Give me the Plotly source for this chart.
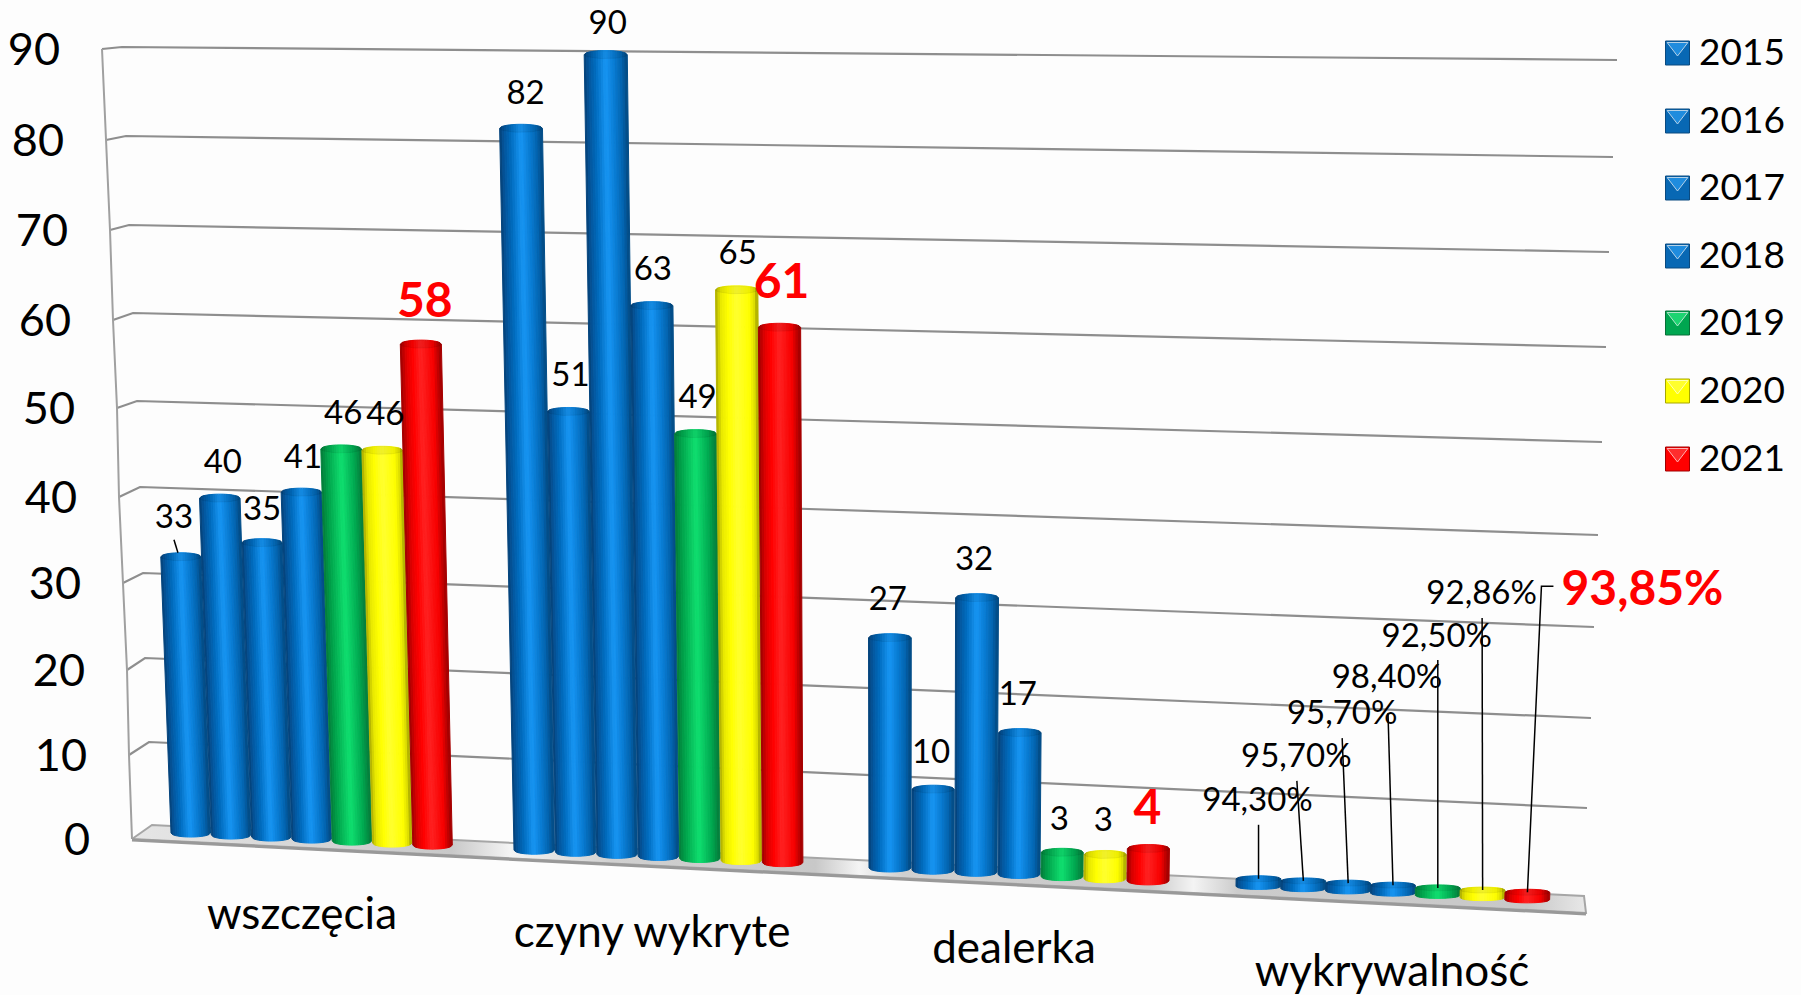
import numpy as np
import plotly.graph_objects as go

# ---------- data ----------
CATEGORIES = ["wszczęcia", "czyny wykryte", "dealerka", "wykrywalność"]
YEARS = ["2015", "2016", "2017", "2018", "2019", "2020", "2021"]
V2015 = [33, 82, 27, 94.30]
V2016 = [40, 51, 10, 95.70]
V2017 = [35, 90, 32, 95.70]
V2018 = [41, 63, 17, 98.40]
V2019 = [46, 49, 3, 92.50]
V2020 = [46, 65, 3, 92.86]
V2021 = [58, 61, 4, 93.85]
SERIES = [V2015, V2016, V2017, V2018, V2019, V2020, V2021]
TICKS = [0, 10, 20, 30, 40, 50, 60, 70, 80, 90]

# ---------- perspective layout (screen geometry of the 3-D box) ----------
W, H = 1801, 995
BAR_H = [0, 80, 166, 254, 341, 431, 521, 611, 703, 797]
FRONT_X = [132, 129, 127, 123, 119, 117, 113, 110, 106, 102]
FRONT_Y = [839, 755, 670, 583, 497, 408, 320, 230, 140, 49]
BACK_X = [152, 149, 145, 143, 140, 137, 133, 129, 126, 122]
BACK_Y = [825, 742, 658, 573, 487, 401, 313, 225, 136, 47]
RIGHT_X = [1584, 1587, 1591, 1594, 1598, 1602, 1606, 1609, 1613, 1617]
RIGHT_Y = [896, 808, 718, 627, 535, 442, 347, 252, 157, 60]
GROUP_LEFT = [171, 514, 869, 1236]
GROUP_STEP = [40.3, 41.4, 43.0, 44.8]
GROUP_W = [39.5, 40.5, 42.0, 44.8]
GROUP_RY = [4.0, 4.0, 4.0, 3.0]
GRID = "#8e8e8e"
PAPER = "#fdfdfd"
FONT = "Lato"

BLUE = [(0, "#063f73"), (.10, "#05559b"), (.26, "#006cbe"), (.5, "#1896f4"), (.68, "#0a7ed6"), (.88, "#0363ae"), (1, "#04487f")]
GREEN = [(0, "#067a3a"), (.15, "#00a04a"), (.5, "#10e070"), (.82, "#00a850"), (1, "#067a3a")]
YELLOW = [(0, "#a8a800"), (.12, "#e8e800"), (.3, "#ffff00"), (.5, "#ffff30"), (.8, "#ffff00"), (.92, "#dede00"), (1, "#a0a000")]
RED = [(0, "#9a0000"), (.15, "#e00000"), (.3, "#ff0000"), (.5, "#ff2222"), (.8, "#f80000"), (1, "#9a0000")]
RAMPS = [BLUE, BLUE, BLUE, BLUE, GREEN, YELLOW, RED]
SWATCH = ["#0868b4", "#0868b4", "#0868b4", "#0868b4", "#00a650", "#ffff00", "#ff0000"]
SW_LIGHT = ["#2a9cf0", "#2a9cf0", "#2a9cf0", "#2a9cf0", "#28e880", "#ffff40", "#ff4040"]
SW_DARK = ["#0a4a80", "#0a4a80", "#0a4a80", "#0a4a80", "#087038", "#a8a800", "#a00000"]
LEGEND_Y = [53, 121, 188, 256, 323, 391, 459]

# label offsets from the top centre of each bar: one row per series
LABEL_DX = [[-7, 4.5, -2, -1], [3, 2, -2, -7], [0, 2, -3, -6], [1.5, 1, -2, -6],
            [2, 2, -3, -1], [3, 1, -2, -1], [4, 2, -1, 115]]
LABEL_DY = [[-36.5, -33, -35.7, -76], [-33, -33.7, -34.6, -122], [-31, -29, -36, -167], [-32, -34, -35.6, -205],
            [-33, -33.5, -30.6, -249], [-34, -34, -31.6, -294], [-39.5, -41.3, -36.4, -299]]
LEADER_DX = [1, 0.5, 0, 1, 1, 0.5, -101]
LEADER_DY = [22, 22, 22, 33, 21, 22, -7]
CAT_X = [302, 652, 1014, 1392]
CAT_Y = [918, 936, 952, 975]


def hex2rgb(c):
    return np.array([int(c[i:i + 2], 16) for i in (1, 3, 5)], float)


def shade(ramp, t):
    ps = [p for p, _ in ramp]
    cs = np.array([hex2rgb(c) for _, c in ramp])
    rgb = [np.interp(t, ps, cs[:, k]) for k in range(3)]
    return "rgb(%d,%d,%d)" % tuple(rgb)


def geom(g, i, v):
    """Project a bar (group g, slot i, value v) into the perspective box."""
    val = v / 100 if g == 3 else v
    x = GROUP_LEFT[g] + GROUP_STEP[g] * i + GROUP_W[g] / 2
    y = 833 + 0.05 * (x - 190)
    h = float(np.interp(val, TICKS, BAR_H)) * min(1.012, 1 + (x - 530) * 4e-5)
    xt = x - (900 - x) * 5e-5 * h
    wt = GROUP_W[g] * (1 + 8e-5 * h)
    return x, y, xt, y - h, GROUP_W[g], wt, GROUP_RY[g]


fig = go.Figure()


def line(xs, ys, color=GRID, width=2.2):
    fig.add_trace(go.Scatter(x=xs, y=ys, mode="lines", line=dict(color=color, width=width),
                             hoverinfo="skip", showlegend=False))


# grid lines, side wall
for k in range(1, len(TICKS)):
    line([FRONT_X[k], BACK_X[k], RIGHT_X[k]], [FRONT_Y[k], BACK_Y[k], RIGHT_Y[k]])
line(FRONT_X, FRONT_Y, "#a0a0a0", 2)

# floor
fx = [FRONT_X[0], 1586, RIGHT_X[0], BACK_X[0], FRONT_X[0]]
fy = [FRONT_Y[0], 913, RIGHT_Y[0], BACK_Y[0], FRONT_Y[0]]
fig.add_trace(go.Scatter(
    x=fx, y=fy, mode="lines", fill="toself", line=dict(color="#a6a6a6", width=2),
    fillgradient=dict(type="horizontal", colorscale=[
        [0, "#e6e6e6"], [.22, "#c8c8c8"], [.26, "#f4f4f4"], [.33, "#d0d0d0"], [.47, "#c8c8c8"],
        [.50, "#f4f4f4"], [.53, "#d0d0d0"], [.70, "#c8c8c8"], [.73, "#f4f4f4"], [.76, "#cccccc"],
        [.96, "#c8c8c8"], [1, "#e8e8e8"]]),
    hoverinfo="skip", showlegend=False))
line([FRONT_X[0], 1586], [FRONT_Y[0] + 1, 914], "#999999", 3)

# cylinders: every series is a set of shaded strips
N = 18
edges = np.linspace(-1, 1, N + 1)
for j, (year, vals) in enumerate(zip(YEARS, SERIES)):
    for s in range(N):
        u0, u1 = edges[s], edges[s + 1]
        xs, ys = [], []
        for g, v in enumerate(vals):
            x, y, xt, yt, wb, wt, ry = geom(g, j, v)
            a0, a1 = np.sqrt(1 - u0 ** 2), np.sqrt(1 - u1 ** 2)
            xs += [x + u0 * wb / 2, x + u1 * wb / 2, xt + u1 * wt / 2, xt + u0 * wt / 2, x + u0 * wb / 2, None]
            ys += [y + ry * a0, y + ry * a1, yt - ry * a1, yt - ry * a0, y + ry * a0, None]
        c = shade(RAMPS[j], (s + .5) / N)
        fig.add_trace(go.Scatter(x=xs, y=ys, mode="lines", fill="toself", fillcolor=c,
                                 line=dict(color=c, width=1), name=year, legendgroup=year,
                                 hoverinfo="skip", showlegend=False))
    # top caps
    t = np.linspace(0, 2 * np.pi, 40)
    xs, ys = [], []
    for g, v in enumerate(vals):
        x, y, xt, yt, wb, wt, ry = geom(g, j, v)
        xs += list(xt + wt / 2 * np.cos(t)) + [None]
        ys += list(yt + ry * np.sin(t)) + [None]
    fig.add_trace(go.Scatter(x=xs, y=ys, mode="lines", fill="toself", fillcolor="rgba(0,0,0,0.06)",
                             line=dict(color="rgba(0,0,0,0.06)", width=1), name=year,
                             hoverinfo="skip", showlegend=False))

# leader lines
x0, y0, xt0, yt0, *_ = geom(0, 0, V2015[0])
line([xt0 - 7, xt0 - 3], [yt0 - 17, yt0 - 4], "#000000", 1.5)
for j, vals in enumerate(SERIES):
    x, y, xt, yt, *_ = geom(3, j, vals[3])
    lx, ly = xt + LABEL_DX[j][3], yt + LABEL_DY[j][3]
    ex, ey = lx + LEADER_DX[j], ly + LEADER_DY[j]
    xs, ys = [xt, ex], [yt, ey]
    if j == 6:
        xs.append(ex + 12)
        ys.append(ey)
    line(xs, ys, "#000000", 1.5)

# data labels
for j, vals in enumerate(SERIES):
    px, py, txt = [], [], []
    for g, v in enumerate(vals):
        x, y, xt, yt, *_ = geom(g, j, v)
        px.append(xt + LABEL_DX[j][g])
        py.append(yt + LABEL_DY[j][g])
        txt.append(("%.2f%%" % v).replace(".", ",") if g == 3 else str(v))
    red = j == 6
    fig.add_trace(go.Scatter(x=px, y=py, text=txt, mode="text", textposition="middle center",
                             textfont=dict(family=FONT, color="#ff0000" if red else "#000000",
                                           size=48 if red else 33,
                                           weight="bold" if red else "normal"),
                             hoverinfo="skip", showlegend=False))

# value axis labels
fig.add_trace(go.Scatter(x=[a - 42 for a in FRONT_X], y=[a + 5 for a in FRONT_Y], text=[str(t) for t in TICKS],
                         mode="text", textposition="middle left",
                         textfont=dict(family=FONT, size=45, color="#000000"),
                         hoverinfo="skip", showlegend=False))
# category labels
fig.add_trace(go.Scatter(x=CAT_X, y=CAT_Y, text=CATEGORIES, mode="text", textposition="middle center",
                         textfont=dict(family=FONT, size=44, color="#000000"),
                         hoverinfo="skip", showlegend=False))
# legend
fig.add_trace(go.Scatter(x=[1677.5] * 7, y=LEGEND_Y, mode="markers",
                         marker=dict(symbol="square", size=24, color=SWATCH,
                                     line=dict(color=SW_DARK, width=1)),
                         hoverinfo="skip", showlegend=False))
fig.add_trace(go.Scatter(x=[1677.5] * 7, y=[a - 6 for a in LEGEND_Y], mode="markers",
                         marker=dict(symbol="triangle-down", size=[18] * 7, color=SW_LIGHT),
                         hoverinfo="skip", showlegend=False))
fig.add_trace(go.Scatter(x=[1699] * 7, y=[a + 2.5 for a in LEGEND_Y], text=YEARS, mode="text", textposition="middle right",
                         textfont=dict(family=FONT, size=37, color="#000000"),
                         hoverinfo="skip", showlegend=False))

fig.update_layout(
    width=W, height=H, margin=dict(l=0, r=0, t=0, b=0), paper_bgcolor=PAPER, plot_bgcolor=PAPER,
    showlegend=False,
    xaxis=dict(range=[0, W], visible=False, fixedrange=True),
    yaxis=dict(range=[H, 0], visible=False, fixedrange=True),
)
fig.write_html("out.html", config={"displayModeBar": False},
               post_script="document.body.style.margin='0';document.body.style.overflow='hidden';")
